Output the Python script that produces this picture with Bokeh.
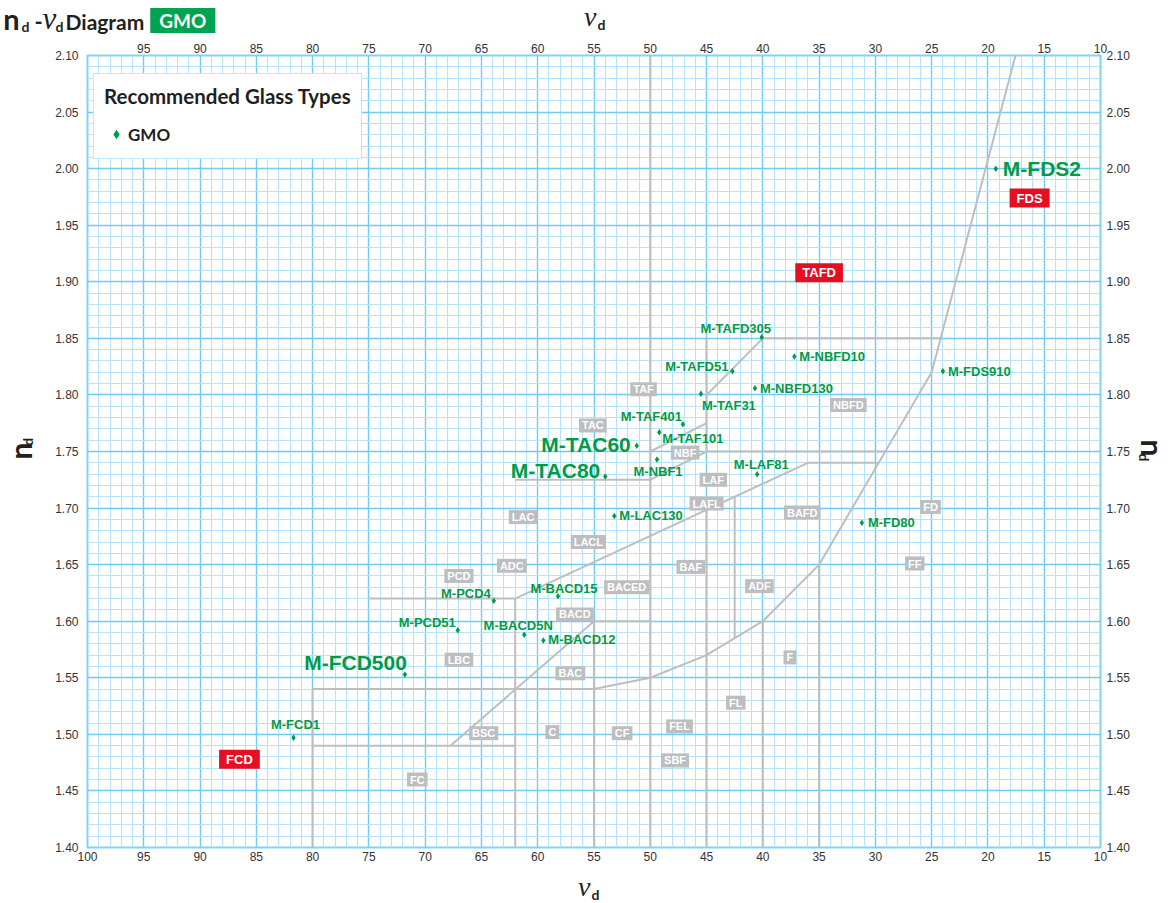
import math
from bokeh.plotting import figure
from bokeh.layouts import column, row
from bokeh.models import (Range1d, LinearAxis, FixedTicker, Grid,
                          Legend, LegendItem, ColumnDataSource, PrintfTickFormatter)
from bokeh.core.properties import value
from bokeh.embed import file_html
from bokeh.resources import INLINE

# ---------------- data ----------------
x_ticks_bottom = [100, 95, 90, 85, 80, 75, 70, 65, 60, 55, 50, 45, 40, 35, 30, 25, 20, 15, 10]
x_ticks_top = [95, 90, 85, 80, 75, 70, 65, 60, 55, 50, 45, 40, 35, 30, 25, 20, 15, 10]
y_ticks = [1.40, 1.45, 1.50, 1.55, 1.60, 1.65, 1.70, 1.75, 1.80, 1.85, 1.90, 1.95, 2.00, 2.05, 2.10]
x_minor = [v for v in range(11, 100) if v % 5 != 0]
y_minor = [round(1.40 + i / 100, 2) for i in range(1, 70) if i % 5 != 0]

glass_names = ["M-FDS2", "M-FDS910", "M-NBFD10", "M-NBFD130", "M-TAFD305", "M-TAFD51",
               "M-TAF31", "M-TAF401", "M-TAF101", "M-NBF1", "M-TAC60", "M-TAC80",
               "M-LAF81", "M-LAC130", "M-FD80", "M-BACD15", "M-PCD4", "M-PCD51",
               "M-BACD5N", "M-BACD12", "M-FCD500", "M-FCD1"]
glass_nu = [19.3, 24.0, 37.2, 40.7, 40.1, 42.7, 45.5, 47.1, 49.2, 49.4, 51.2, 54.0,
            40.5, 53.2, 31.2, 58.2, 63.9, 67.1, 61.2, 59.5, 71.8, 81.7]
glass_nd = [2.000, 1.821, 1.834, 1.806, 1.851, 1.821, 1.801, 1.774, 1.767, 1.743, 1.755, 1.728,
            1.730, 1.693, 1.687, 1.622, 1.618, 1.592, 1.588, 1.583, 1.553, 1.497]

region_names = ["TAF", "TAC", "NBF", "NBFD", "LAF", "LAFL", "LAC", "LACL", "BAFD", "FD", "FF",
                "BAF", "ADF", "F", "FL", "FEL", "SBF", "CF", "C", "BSC", "FC", "LBC", "BAC",
                "BACD", "BACED", "PCD", "ADC"]
region_nu = [50.6, 55.1, 46.9, 32.4, 44.4, 45.0, 61.3, 55.5, 36.5, 25.1, 26.5,
             46.4, 40.3, 37.6, 42.4, 47.4, 47.8, 52.5, 58.7, 64.8, 70.7, 67.0, 57.1,
             56.7, 52.1, 67.0, 62.3]
region_nd = [1.805, 1.773, 1.749, 1.791, 1.725, 1.704, 1.692, 1.670, 1.696, 1.701, 1.651,
             1.648, 1.631, 1.568, 1.528, 1.507, 1.477, 1.501, 1.502, 1.501, 1.460, 1.566, 1.554,
             1.606, 1.630, 1.640, 1.649]

red_names = ["FCD", "TAFD", "FDS"]
red_nu = [86.5, 35.0, 16.3]
red_nd = [1.478, 1.908, 1.974]

# glass-type boundary lines (nu_d, n_d) polylines
bounds_nu = [
    [50, 50],
    [80, 55, 50, 45, 40, 35, 25, 17.55],
    [40, 24.2],
    [45, 40],
    [45, 45],
    [45, 29.1],
    [36, 29.7],
    [62, 36],
    [50, 45],
    [50, 45],
    [62, 50],
    [75, 62],
    [62, 62],
    [55, 55],
    [55, 50],
    [67.75, 55],
    [80, 62],
    [80, 80],
    [45, 45],
    [42.5, 42.5],
    [40, 40],
    [35, 35],
]
bounds_nd = [
    [1.40, 2.10],
    [1.54, 1.54, 1.55, 1.57, 1.60, 1.65, 1.82, 2.10],
    [1.85, 1.85],
    [1.80, 1.85],
    [1.85, 1.75],
    [1.75, 1.75],
    [1.74, 1.74],
    [1.62, 1.74],
    [1.75, 1.775],
    [1.725, 1.75],
    [1.725, 1.725],
    [1.62, 1.62],
    [1.62, 1.40],
    [1.60, 1.40],
    [1.60, 1.60],
    [1.49, 1.60],
    [1.49, 1.49],
    [1.54, 1.40],
    [1.6985, 1.40],
    [1.71, 1.585],
    [1.60, 1.40],
    [1.65, 1.40],
]

# ---------------- styles / layout ----------------
GREEN = "#009B48"
GMO_GREEN = "#00A350"
RED = "#E60E21"
GRAY = "#BCBEC0"
LINE_GRAY = "#BDBEC0"
MAJOR = "#6FCBF2"
MINOR = "#B8E3F7"
DARK = "#231F20"
SANS = "Liberation Sans"
HUM = "Lato"
SERIF = "Liberation Serif"

FW, FH = 1013, 792
X0, X1, Y0, Y1 = 100, 10, 1.40, 2.10
TOP_H, BOT_H, LEFT_W, RIGHT_W = 36, 33, 44, 36
B_LEFT, B_RIGHT, B_TOP, B_BOTTOM = 43, 34, 19, 22
MID_H = B_TOP + FH + B_BOTTOM
TOTAL_W = LEFT_W + B_LEFT + FW + B_RIGHT + RIGHT_W
MID = 0.35   # em offset from baseline to the "middle" anchor

big_labels = {"M-FDS2", "M-TAC60", "M-TAC80", "M-FCD500"}
label_style = {   # align, dx, dy (screen px)
    "M-FDS2": ("left", 7, 0),
    "M-FDS910": ("left", 5, 0),
    "M-NBFD10": ("left", 5, 0),
    "M-NBFD130": ("left", 5, 0),
    "M-TAFD305": ("center", -26, -9),
    "M-TAFD51": ("right", -4, -5),
    "M-TAF31": ("left", 1, 12),
    "M-TAF401": ("right", -1, -8),
    "M-TAF101": ("left", 3, 6),
    "M-NBF1": ("center", 1, 12),
    "M-TAC60": ("right", -6, -1),
    "M-TAC80": ("right", -5, -6),
    "M-LAF81": ("center", 4, -10),
    "M-LAC130": ("left", 5, 0),
    "M-FD80": ("left", 6, 0),
    "M-BACD15": ("center", 6, -8),
    "M-PCD4": ("right", -3, -7),
    "M-PCD51": ("right", -2, -8),
    "M-BACD5N": ("center", -6, -9),
    "M-BACD12": ("left", 5, -1),
    "M-FCD500": ("right", 2, -12),
    "M-FCD1": ("center", 2, -13),
}

p = figure(frame_width=FW, frame_height=FH,
           min_border_left=B_LEFT, min_border_right=B_RIGHT,
           min_border_top=B_TOP, min_border_bottom=B_BOTTOM,
           x_range=Range1d(X0, X1), y_range=Range1d(Y0, Y1),
           x_axis_location=None, y_axis_location=None,
           output_backend="svg", toolbar_location=None)
p.background_fill_color = "white"
p.border_fill_color = "white"
p.outline_line_color = "#7FD3F5"
p.outline_line_width = 2
p.xgrid.visible = False
p.ygrid.visible = False

# grids
p.add_layout(Grid(dimension=0, ticker=FixedTicker(ticks=x_ticks_bottom, minor_ticks=x_minor),
                  grid_line_color=MAJOR, grid_line_width=1.4,
                  minor_grid_line_color=MINOR, minor_grid_line_width=1))
p.add_layout(Grid(dimension=1, ticker=FixedTicker(ticks=y_ticks, minor_ticks=y_minor),
                  grid_line_color=MAJOR, grid_line_width=1.4,
                  minor_grid_line_color=MINOR, minor_grid_line_width=1))

def style_axis(ax, standoff):
    ax.axis_line_color = None
    ax.major_tick_line_color = None
    ax.minor_tick_line_color = None
    ax.major_tick_out = 0
    ax.major_tick_in = 0
    ax.minor_tick_out = 0
    ax.minor_tick_in = 0
    ax.major_label_standoff = standoff
    ax.major_label_text_font = SANS
    ax.major_label_text_font_size = "12px"
    ax.major_label_text_color = "#333333"

ax_b = LinearAxis(ticker=FixedTicker(ticks=x_ticks_bottom))
ax_t = LinearAxis(ticker=FixedTicker(ticks=x_ticks_top))
ax_l = LinearAxis(ticker=FixedTicker(ticks=y_ticks), formatter=PrintfTickFormatter(format="%.2f"))
ax_r = LinearAxis(ticker=FixedTicker(ticks=y_ticks), formatter=PrintfTickFormatter(format="%.2f"))
style_axis(ax_b, 4)
style_axis(ax_t, 3)
style_axis(ax_l, 9)
style_axis(ax_r, 6)
p.add_layout(ax_b, "below")
p.add_layout(ax_t, "above")
p.add_layout(ax_l, "left")
p.add_layout(ax_r, "right")

# boundary lines
p.multi_line(xs=bounds_nu, ys=bounds_nd, line_color=LINE_GRAY, line_width=2)

# region name boxes
p.text(x=region_nu, y=region_nd, text=region_names, text_color="white",
       text_font=value(SANS), text_font_style="bold", text_font_size="11px",
       text_align="center", text_baseline="middle",
       background_fill_color=GRAY, padding=dict(left=3, right=3, top=1, bottom=1))
p.text(x=red_nu, y=red_nd, text=red_names, text_color="white",
       text_font=value(SANS), text_font_style="bold", text_font_size="13px",
       text_align="center", text_baseline="middle",
       background_fill_color=RED, padding=dict(left=7, right=7, top=2, bottom=2))

# glass markers
mk = p.scatter(glass_nu, glass_nd, marker="diamond", size=6.5,
               fill_color=GREEN, line_color=None)

# glass labels, grouped by size and alignment
groups = {}
for name, nu, nd in zip(glass_names, glass_nu, glass_nd):
    align, dx, dy = label_style[name]
    key = (name in big_labels, align)
    g = groups.setdefault(key, dict(x=[], y=[], t=[], dx=[], dy=[]))
    g["x"].append(nu); g["y"].append(nd); g["t"].append(name)
    g["dx"].append(dx); g["dy"].append(dy)
for (is_big, align), g in groups.items():
    src = ColumnDataSource(g)
    p.text(x="x", y="y", text="t", x_offset="dx", y_offset="dy", source=src,
           text_color=GREEN, text_font=value(SANS), text_font_style="bold",
           text_font_size="21px" if is_big else "13px",
           text_align=align, text_baseline="middle")

# legend
leg = Legend(items=[LegendItem(label="GMO", renderers=[mk])],
             title="Recommended Glass Types", location=(6, 688),
             padding=10, margin=0, spacing=0,
             title_standoff=12, glyph_width=24, glyph_height=28, label_height=28,
             label_standoff=0, border_line_color="#7FD3F5", border_line_width=1.5,
             background_fill_color="white", background_fill_alpha=1.0,
             title_text_font=HUM, title_text_font_style="bold", title_text_font_size="20.5px",
             title_text_color=DARK, label_text_font=HUM, label_text_font_style="bold",
             label_text_font_size="17px", label_text_color=DARK)
p.add_layout(leg)

# ---------------- strips around the chart for title and axis titles ----------------
def strip(w, h):
    f = figure(width=w, height=h, x_range=Range1d(0, w), y_range=Range1d(h, 0),
               min_border=0, x_axis_location=None, y_axis_location=None,
               toolbar_location=None, output_backend="svg")
    f.xgrid.visible = False
    f.ygrid.visible = False
    f.outline_line_color = None
    f.background_fill_color = "white"
    f.border_fill_color = "white"
    return f

def put(f, text, x, y, font, px, color=DARK, style="bold", align="left",
        angle=0.0, bg=None, pad=None, base=True):
    # (x, y): anchor in strip pixels; y (or x when rotated) is the text baseline when base=True
    kw = {}
    if bg is not None:
        kw["background_fill_color"] = bg
    if pad is not None:
        kw["padding"] = pad
    if base:
        if angle == 0:
            y = y - MID * px
        elif angle > 0:
            x = x - MID * px
        else:
            x = x + MID * px
    f.text(x=[x], y=[y], text=[text], text_font=value(font), text_font_size=f"{px}px",
           text_font_style=style, text_color=color, text_align=align,
           text_baseline="middle", angle=angle, **kw)

top = strip(TOTAL_W, TOP_H)
put(top, "n", 19, 28.2, HUM, 29, align="right")
put(top, "d", 21, 30.7, HUM, 14)
put(top, "-", 34, 28.5, HUM, 22)
put(top, "\u03bd", 42, 29.3, SERIF, 31, style="italic")
put(top, "d", 55, 30.7, HUM, 14)
put(top, "Diagram", 65, 28.3, HUM, 21)
put(top, "GMO", 182.3, 20, HUM, 19, color="white", align="center",
    bg=GMO_GREEN, pad=dict(left=9, right=9, top=1, bottom=1), base=False)
put(top, "\u03bd", 596, 25.8, SERIF, 28, style="italic", align="right")
put(top, "d", 597, 29, HUM, 14)

bottom = strip(TOTAL_W, BOT_H)
put(bottom, "\u03bd", 590, 26.3, SERIF, 28, style="italic", align="right")
put(bottom, "d", 591, 29.5, HUM, 14)

left = strip(LEFT_W, MID_H)
put(left, "n", 30, 461 - TOP_H, HUM, 30, angle=math.pi / 2)
put(left, "d", 32, 446.5 - TOP_H, HUM, 14, angle=math.pi / 2)

right = strip(RIGHT_W, MID_H)
put(right, "n", 7.5, 440 - TOP_H, HUM, 30, angle=-math.pi / 2)
put(right, "d", 5.5, 454.5 - TOP_H, HUM, 14, angle=-math.pi / 2)

layout = column(top, row(left, p, right), bottom)
open("out.html", "w").write(file_html(layout, INLINE))
